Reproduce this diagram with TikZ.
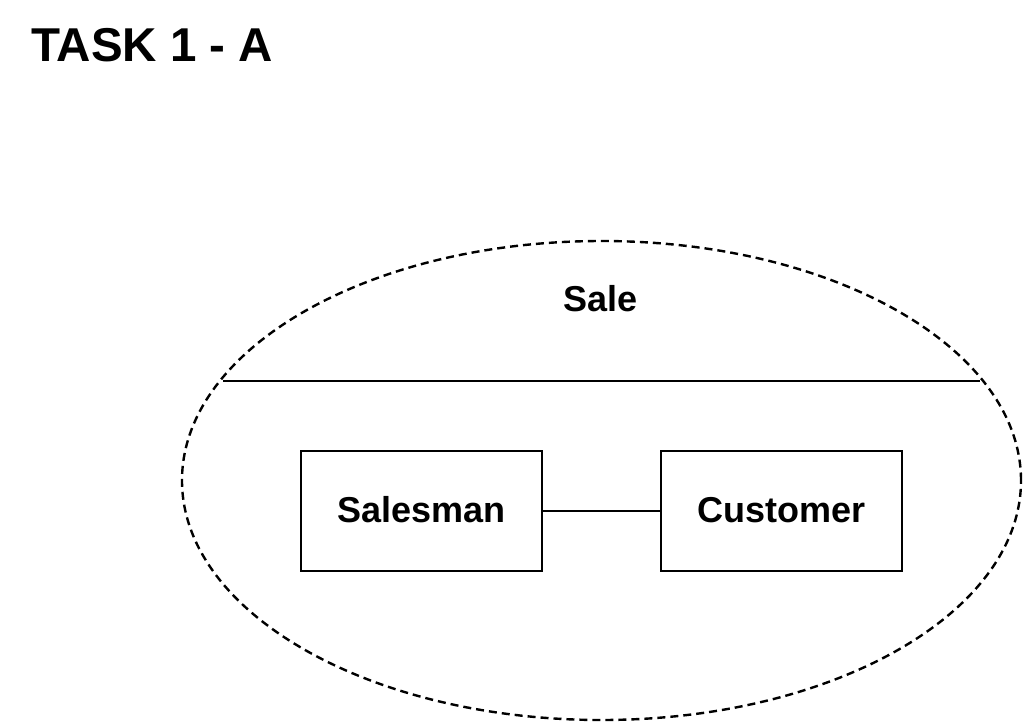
\documentclass[tikz,border=0pt]{standalone}
\usepackage{fontspec}
\setmainfont{Liberation Sans}
\usetikzlibrary{shapes.geometric}
\tikzset{
  lw/.style={line width=2.4pt},
  entity/.style={draw, lw, rectangle, minimum width=241pt, minimum height=120pt, inner sep=0pt,
    font=\bfseries\fontsize{36}{43}\selectfont, text height=26pt, text depth=4pt},
  boundary/.style={draw, lw, ellipse, dash pattern=on 8pt off 5pt, minimum width=839pt, minimum height=479pt, inner sep=0pt},
  label/.style={font=\bfseries\fontsize{36}{43}\selectfont, anchor=base},
}
\begin{document}
\begin{tikzpicture}[x=1pt,y=-1pt]
\useasboundingbox (0,0) rectangle (1023,723);
\node[font=\bfseries\fontsize{47.5}{56}\selectfont, anchor=base west, inner sep=0pt] (title) at (31,61) {TASK 1 - A};
\node[boundary] (sale) at (601.5,480.5) {};
\node[label, inner sep=0pt] (salelabel) at (600.5,311) {Sale};
\coordinate (divl) at (223,381);
\coordinate (divr) at (980,381);
\draw[lw] (divl) -- (divr);
\node[entity] (salesman) at (421.5,511) {Salesman};
\node[entity] (customer) at (781.5,511) {Customer};
\draw[lw] (salesman) -- (customer);
\end{tikzpicture}
\end{document}
